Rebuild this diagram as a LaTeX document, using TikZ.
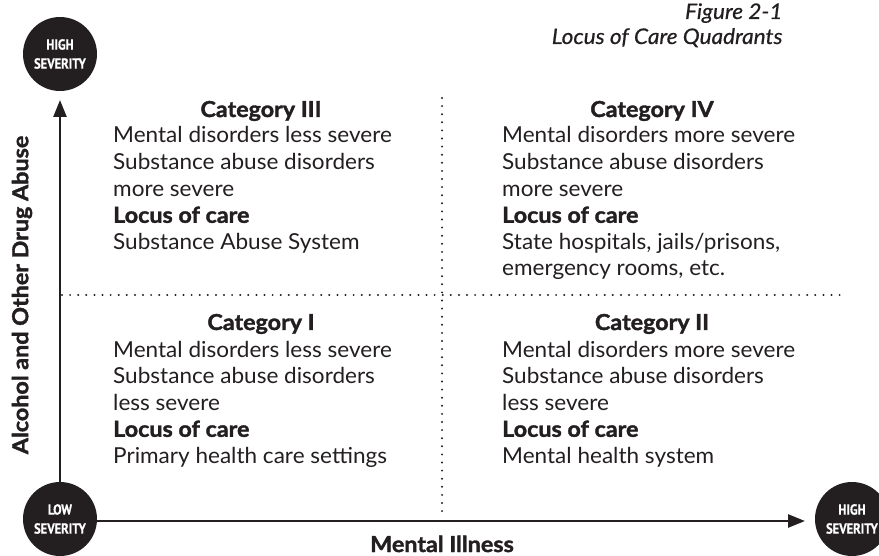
\documentclass[tikz,border=0pt]{standalone}
\usepackage{fontspec}
\setmainfont{Lato}[FakeStretch=1.025]
\newfontfamily\heavyfont{Lato Bold}[FakeBold=1.6,FakeStretch=1.06]
\newfontfamily\titlefont{Lato Italic}[FakeBold=0.6,FakeStretch=1.05]
\newfontfamily\circfont{PT Sans Bold}[FakeBold=0.6]
\usetikzlibrary{arrows.meta}
\definecolor{ink}{HTML}{231F20}
\tikzset{
  sevcircle/.style={circle,fill=ink,minimum size=74pt,inner sep=0pt,text=white,
    align=center,font=\circfont\fontsize{14.5}{19}\selectfont},
  cathead/.style={anchor=base,text=ink,font=\heavyfont\fontsize{22}{24}\selectfont},
  quadtext/.style={anchor=base west,align=left,inner sep=0pt,text=ink,
    font=\fontsize{22}{26.6}\selectfont},
  axislabel/.style={text=ink,font=\heavyfont\fontsize{22}{24}\selectfont},
  axis/.style={line width=2.5pt,draw=ink,-{Triangle[length=17pt,width=13pt]}},
  divider/.style={line width=2.2pt,draw=ink,line cap=round,dash pattern=on 0pt off 8.1pt}
}
\newcommand{\sevtext}[1]{\scalebox{0.86}[1]{#1}}
\begin{document}
\begin{tikzpicture}[x=1pt,y=-1pt]
      \useasboundingbox (0,0) rectangle (879,556);
      % title
      \node[anchor=base east,text=ink,font=\titlefont\fontsize{21.5}{24}\selectfont] (fig) at (786,19) {Figure 2-1};
      \node[anchor=base east,text=ink,font=\titlefont\fontsize{21.5}{24}\selectfont] (title) at (786,44) {Locus of Care Quadrants};
      % severity circles
      \node[sevcircle] (hightop) at (60,54) {\sevtext{HIGH}\\\sevtext{SEVERITY}};
      \node[sevcircle] (lowsev) at (60,519) {\sevtext{LOW}\\\sevtext{SEVERITY}};
      \node[sevcircle] (highright) at (852,519) {\sevtext{HIGH}\\\sevtext{SEVERITY}};
      % axes
      \coordinate (ytip) at (60,100);
      \coordinate (xtip) at (805,521);
      \draw[axis] (lowsev) -- (ytip);
      \draw[axis] (lowsev.east |- xtip) -- (xtip);
      % quadrant borders
      \draw[divider] (62,295) -- (847,295);
      \draw[divider] (442,98) -- (442,519);
      % axis labels
      \node[axislabel,rotate=90] (ylab) at (22,295) {Alcohol and Other Drug Abuse};
      \node[axislabel,anchor=base] (xlab) at (442,552) {Mental Illness};
      % upper quadrants (base = last line)
      \node[cathead] (cat3) at (261,117) {Category III};
      \node[quadtext] (txt3) at (113,249.4) {Mental disorders less severe\\Substance abuse disorders\\more severe\\{\heavyfont Locus of care}\\Substance Abuse System};
      \node[cathead] (cat4) at (652,117) {Category IV};
      \node[quadtext] (txt4) at (502,276) {Mental disorders more severe\\Substance abuse disorders\\more severe\\{\heavyfont Locus of care}\\State hospitals, jails/prisons,\\emergency rooms, etc.};
      % lower quadrants
      \node[cathead] (cat1) at (261,330) {Category I};
      \node[quadtext] (txt1) at (113,463.4) {Mental disorders less severe\\Substance abuse disorders\\less severe\\{\heavyfont Locus of care}\\Primary health care settings};
      \node[cathead] (cat2) at (652,330) {Category II};
      \node[quadtext] (txt2) at (502,463.4) {Mental disorders more severe\\Substance abuse disorders\\less severe\\{\heavyfont Locus of care}\\Mental health system};
    \end{tikzpicture}
\end{document}
